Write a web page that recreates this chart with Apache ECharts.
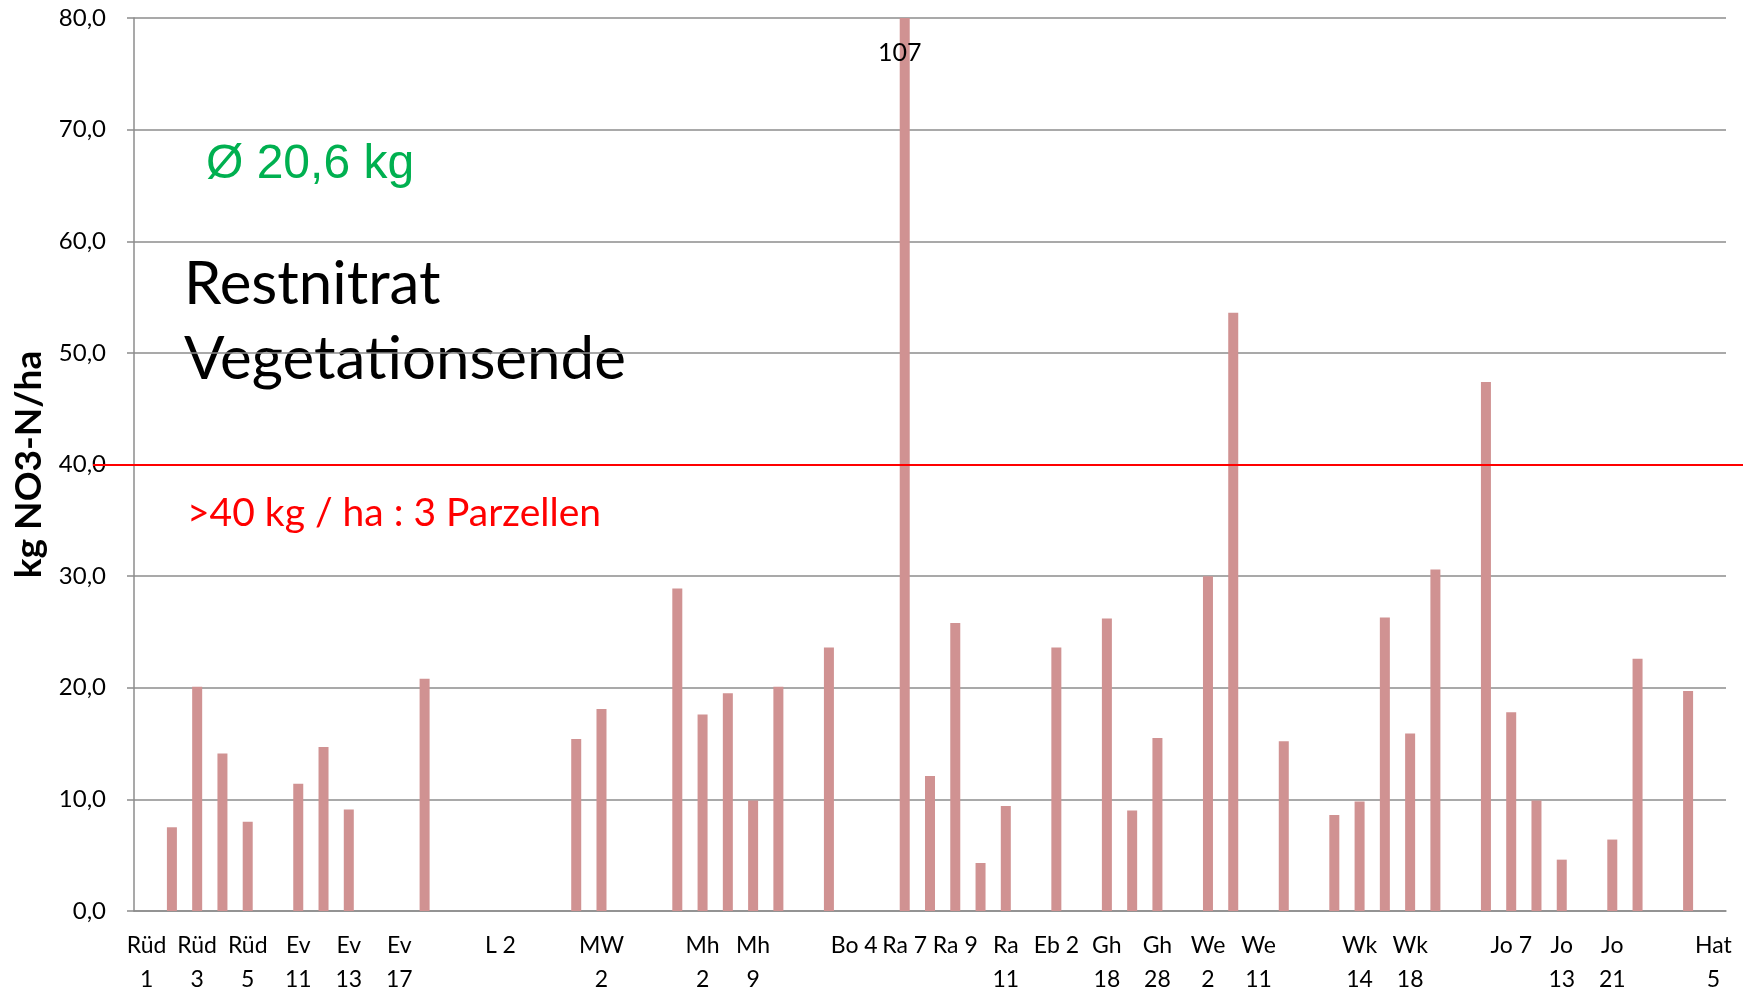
<!DOCTYPE html>
<html>
<head>
<meta charset="utf-8">
<script src="https://cdn.jsdelivr.net/npm/echarts@6/dist/echarts.min.js"></script>
<style>
html,body{margin:0;padding:0;background:#fff;}
#chart{width:1754px;height:990px;}
</style>
</head>
<body>
<div id="chart"></div>
<script>
// Categories (only every second label is visible in the original; unreadable ones left blank)
const categories = [
  'Rüd\n1','', 'Rüd\n3','', 'Rüd\n5','', 'Ev\n11','', 'Ev\n13','', 'Ev\n17','',
  '','', 'L 2','', '','', 'MW\n2','', '','', 'Mh\n2','', 'Mh\n9','',
  '','', 'Bo 4','', 'Ra 7','', 'Ra 9','', 'Ra\n11','', 'Eb 2','', 'Gh\n18','',
  'Gh\n28','', 'We\n2','', 'We\n11','', '','', 'Wk\n14','', 'Wk\n18','',
  '','', 'Jo 7','', 'Jo\n13','', 'Jo\n21','', '','', 'Hat\n5'
];
// Restnitrat values kg NO3-N/ha (null = no bar)
const values = [
  null, 7.5, 20.1, 14.1, 8.0, null, 11.4, 14.7, 9.1, null, null, 20.8,
  null, null, null, null, null, 15.4, 18.1, null, null, 28.9, 17.6, 19.5, 9.9, 20.1,
  null, 23.6, null, null, 107, 12.1, 25.8, 4.3, 9.4, null, 23.6, null, 26.2, 9.0,
  15.5, null, 30.0, 53.6, null, 15.2, null, 8.6, 9.8, 26.3, 15.9, 30.6,
  null, 47.4, 17.8, 9.9, 4.6, null, 6.4, 22.6, null, 19.7, null
];
const yTicks = [0, 10, 20, 30, 40, 50, 60, 70, 80];
const yMin = 0, yMax = 80, yStep = 10;
const threshold = 40;
const avgText = 'Ø 20,6 kg';
const titleLines = ['Restnitrat', 'Vegetationsende'];
const thresholdText = '>40 kg / ha : 3 Parzellen';
const yAxisTitle = 'kg NO3-N/ha';

const barData = values.map(v => {
  if (v === null) return null;
  if (v > yMax) {
    return {
      value: yMax,
      label: {
        show: true, position: 'insideTop', distance: 22, offset: [-5, 0],
        formatter: String(v), color: '#000', fontFamily: 'Lato', fontSize: 25
      }
    };
  }
  return v;
});

const chart = echarts.init(document.getElementById('chart'), null, {renderer: 'canvas'});
const gridLine = '#8c8c8c';
chart.setOption({
  animation: false,
  backgroundColor: '#ffffff',
  grid: [
    {left: 134, right: 28, top: 18, bottom: 79, outerBoundsMode: 'none', containLabel: false},
    {left: 93, right: 11, top: 18, bottom: 79, outerBoundsMode: 'none', containLabel: false}
  ],
  xAxis: [
    {
      type: 'category', gridIndex: 0, data: categories,
      axisLine: {show: true, lineStyle: {color: gridLine, width: 1.5}},
      axisTick: {show: false},
      axisLabel: {
        interval: 1, margin: 18, color: '#000', fontFamily: 'Lato', fontSize: 23,
        lineHeight: 34, align: 'center'
      }
    },
    {type: 'value', gridIndex: 1, min: 0, max: 1, show: false}
  ],
  yAxis: [
    {
      type: 'value', gridIndex: 0, min: yMin, max: yMax, interval: yStep,
      name: yAxisTitle, nameLocation: 'middle', nameGap: 86, nameRotate: 90,
      nameTextStyle: {fontFamily: 'Lato', fontWeight: 'bold', fontSize: 37, color: '#000'},
      axisLine: {show: true, lineStyle: {color: gridLine, width: 1.5}},
      axisTick: {show: true, length: 7, lineStyle: {color: gridLine, width: 1.5}},
      splitLine: {show: true, lineStyle: {color: gridLine, width: 1.5}},
      axisLabel: {
        margin: 28, color: '#000', fontFamily: 'Lato', fontSize: 24,
        formatter: v => yTicks.includes(v) ? v.toFixed(1).replace('.', ',') : ''
      }
    },
    {type: 'value', gridIndex: 1, min: yMin, max: yMax, show: false}
  ],
  series: [
    {
      type: 'bar', xAxisIndex: 0, yAxisIndex: 0, data: barData,
      barWidth: 10, itemStyle: {color: '#D09292'}, z: 2
    },
    {
      type: 'line', xAxisIndex: 1, yAxisIndex: 1, data: [], z: 5,
      markLine: {
        silent: true, symbol: ['none', 'none'], label: {show: false},
        lineStyle: {color: '#FF0000', width: 2, type: 'solid'},
        data: [{yAxis: threshold}]
      }
    }
  ],
  graphic: [
    {type: 'text', left: 206, top: 141, style: {text: avgText, fill: '#00B050', font: '48px "Liberation Sans"'}},
    {type: 'text', left: 184, top: 255, style: {text: titleLines[0], fill: '#000', font: '60px Lato'}},
    {type: 'text', left: 184, top: 330, style: {text: titleLines[1], fill: '#000', font: '60px Lato'}},
    {type: 'text', left: 187, top: 494, style: {text: thresholdText, fill: '#FF0000', font: '39px Lato'}}
  ]
});
</script>
</body>
</html>
